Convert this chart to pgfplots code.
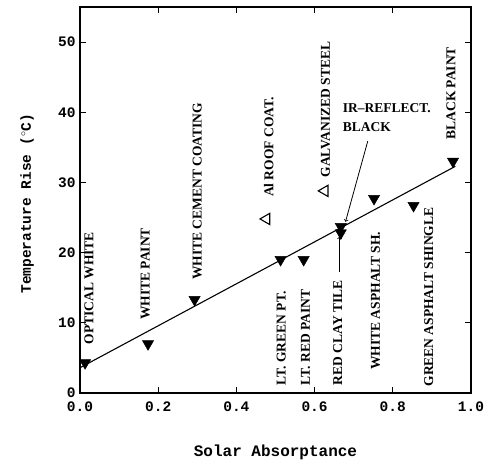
\documentclass[border=0pt]{standalone}
\usepackage{fontspec}
\setmainfont{Liberation Serif}
\newfontfamily\monob{Liberation Mono}
\usepackage{pgfplots}
\pgfplotsset{compat=1.18}
\begin{document}
\begin{tikzpicture}[lab/.style={rotate=90, anchor=west, inner sep=0pt, font=\bfseries\fontsize{13.5bp}{16bp}\selectfont},
  hlab/.style={anchor=west, inner sep=0pt, font=\bfseries\fontsize{13.5bp}{16bp}\selectfont}]
\path (-80bp,-72bp) rectangle (413bp,393bp);
\begin{axis}[
 at={(0,0)}, anchor=south west,
 scale only axis, width=391bp, height=386bp,
 xmin=0, xmax=1, ymin=0, ymax=55,
 xtick={0,0.2,0.4,0.6,0.8,1}, ytick={0,10,20,30,40,50},
 tick align=inside, major tick length=6bp,
 axis line style={line width=1.1pt},
 tick style={line width=0.8pt, black},
 xticklabel style={/pgf/number format/.cd, fixed, fixed zerofill, precision=1, /tikz/yshift=-5bp},
 yticklabel style={xshift=-1bp},
 /pgf/number format/assume math mode=true,
 ticklabel style={font=\monob\bfseries\fontsize{14.5bp}{16bp}\selectfont},
 xlabel={Solar Absorptance}, ylabel={Temperature Rise ($^{\circ}$C)},
 xlabel style={font=\monob\bfseries\fontsize{16bp}{18bp}\selectfont, at={(axis description cs:0.5,-0.155)}, anchor=center},
 ylabel style={font=\monob\bfseries\fontsize{14.5bp}{18bp}\selectfont, at={(axis description cs:-0.135,0.49)}, anchor=center},
 clip=false,
]
\addplot[line width=1.1pt] coordinates {(0,3.6) (0.96,32.3)};
\addplot[only marks, mark=triangle*, mark size=6.5bp, mark options={rotate=180, fill=black, draw=black}] coordinates {
 (0.013,4.3) (0.174,7.0) (0.293,13.3) (0.513,19.0) (0.572,19.0)
 (0.667,23.7) (0.667,22.8) (0.752,27.7) (0.853,26.7) (0.954,33.0)};
\addplot[only marks, mark=triangle, mark size=6.5bp, mark options={rotate=90, line width=1.1pt, draw=black}] coordinates {
 (0.477,24.8) (0.626,28.8)};
\node[lab] at (axis cs:0.023,6.9) {OPTICAL WHITE};
\node[lab] at (axis cs:0.167,10.4) {WHITE PAINT};
\node[lab] at (axis cs:0.300,16.1) {WHITE CEMENT COATING};
\node[lab] at (axis cs:0.483,27.9) {Al ROOF COAT.};
\node[lab] at (axis cs:0.628,30.7) {GALVANIZED STEEL};
\node[lab] at (axis cs:0.949,36.1) {BLACK PAINT};
\node[lab] at (axis cs:0.515,1.1) {LT. GREEN PT.};
\node[lab] at (axis cs:0.577,1.1) {LT. RED PAINT};
\node[lab] at (axis cs:0.659,1.1) {RED CLAY TILE};
\node[lab] at (axis cs:0.756,3.3) {WHITE ASPHALT SH.};
\node[lab] at (axis cs:0.892,0.9) {GREEN ASPHALT SHINGLE};
\node[hlab] at (axis cs:0.672,40.6) {IR--REFLECT.};
\node[hlab] at (axis cs:0.672,37.9) {BLACK};
\draw[->, line width=0.8pt] (axis cs:0.736,35.9) -- (axis cs:0.679,24.4);
\draw[->, line width=0.8pt] (axis cs:0.664,17.3) -- (axis cs:0.664,22.3);
\end{axis}
\end{tikzpicture}
\end{document}
